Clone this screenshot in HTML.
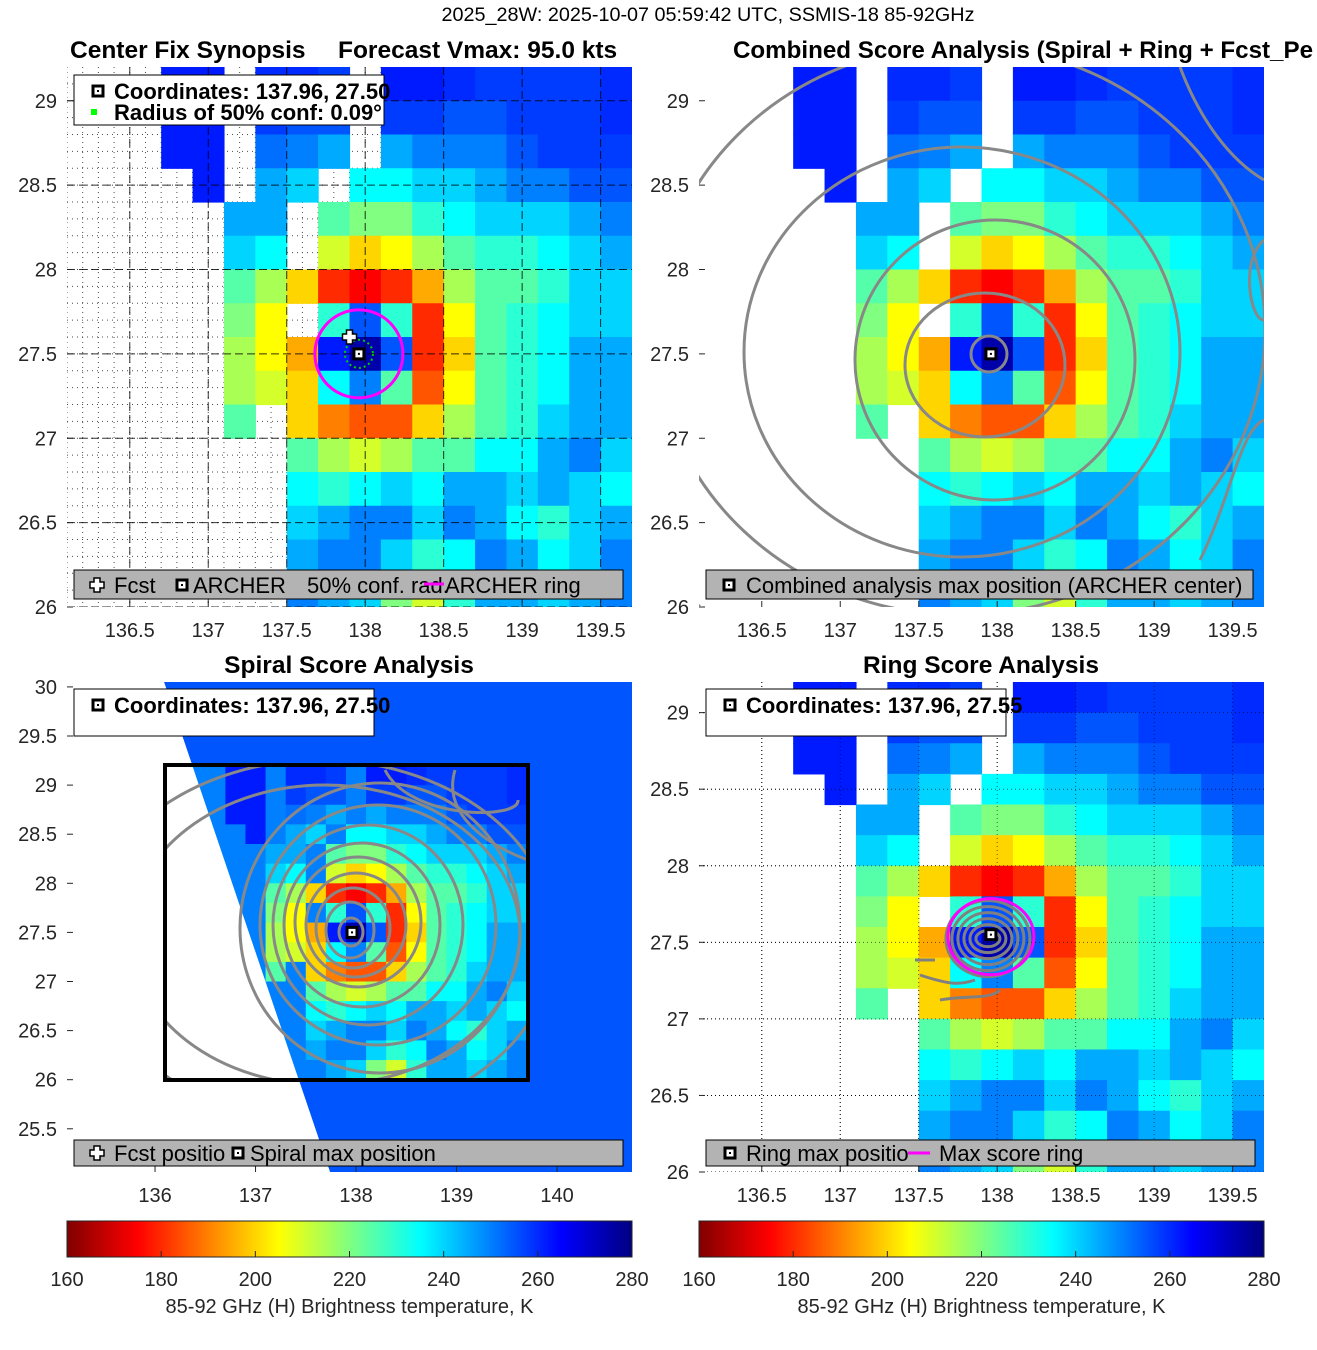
<!DOCTYPE html>
<html><head><meta charset="utf-8"><style>
body{margin:0;background:#fff;}
svg{display:block;font-family:"Liberation Sans",sans-serif;}
.tk{font-size:20px;fill:#262626;}
.ti{font-size:24.5px;font-weight:bold;fill:#000;}
.lg{font-size:22px;fill:#000;}
</style></head><body>
<svg id="fig" width="1317" height="1350" viewBox="0 0 1317 1350" xmlns="http://www.w3.org/2000/svg">
<defs>
<clipPath id="c1"><rect x="67" y="67" width="565" height="540"/></clipPath>
<clipPath id="c2"><rect x="699" y="67" width="565" height="540"/></clipPath>
<clipPath id="c3"><rect x="67" y="682" width="565" height="490"/></clipPath>
<clipPath id="c4"><rect x="699" y="682" width="565" height="490"/></clipPath>
<clipPath id="cbox"><rect x="165" y="765" width="363" height="315"/></clipPath>
<linearGradient id="cbg" x1="0" x2="1" y1="0" y2="0"></linearGradient>
</defs>
<text x="708" y="21" text-anchor="middle" font-size="19.8" fill="#000">2025_28W: 2025-10-07 05:59:42 UTC, SSMIS-18 85-92GHz</text>
<text x="70" y="58" class="ti">Center Fix Synopsis</text>
<text x="338" y="58" class="ti">Forecast Vmax: 95.0 kts</text>
<text x="733" y="58" class="ti" textLength="580" lengthAdjust="spacingAndGlyphs">Combined Score Analysis (Spiral + Ring + Fcst_Pe</text>
<text x="349" y="673" class="ti" text-anchor="middle">Spiral Score Analysis</text>
<text x="981" y="673" class="ti" text-anchor="middle">Ring Score Analysis</text>
<g id="layer"></g>
</svg>
<script>
const N=null;
const lons=[136.2,136.4,136.6,136.8,137.0,137.2,137.4,137.6,137.8,138.0,138.2,138.4,138.6,138.8,139.0,139.2,139.4,139.6];
const lats=[29.1,28.9,28.7,28.5,28.3,28.1,27.9,27.7,27.5,27.3,27.1,26.9,26.7,26.5,26.3,26.1];
const tb=[
[N,N,N,262,262,N,260,260,258,N,262,262,260,258,258,258,258,260],
[N,N,N,262,262,N,258,255,255,N,258,258,255,255,258,258,258,260],
[N,N,N,262,262,N,252,250,245,N,245,250,250,250,255,258,258,258],
[N,N,N,N,262,N,245,240,N,235,235,240,240,245,250,250,255,255],
[N,N,N,N,N,245,245,N,225,220,220,230,235,240,240,240,245,250],
[N,N,N,N,N,240,235,N,210,200,205,215,225,230,230,235,240,245],
[N,N,N,N,N,225,215,200,180,175,180,195,215,225,225,230,240,240],
[N,N,N,N,N,220,205,N,230,255,230,180,205,225,230,235,240,240],
[N,N,N,N,N,215,205,195,262,275,255,180,200,225,230,235,245,245],
[N,N,N,N,N,215,210,200,235,250,225,185,205,225,230,235,245,245],
[N,N,N,N,N,225,N,200,190,185,185,200,215,225,230,240,245,245],
[N,N,N,N,N,N,N,225,215,210,215,225,225,235,235,245,250,240],
[N,N,N,N,N,N,N,235,230,235,240,235,245,245,240,245,240,235],
[N,N,N,N,N,N,N,240,245,250,250,240,250,245,235,230,240,245],
[N,N,N,N,N,N,N,245,250,250,240,230,235,250,245,235,240,250],
[N,N,N,N,N,N,N,250,245,240,220,210,230,245,245,240,245,250]];
const cbTicks=[160,180,200,220,240,260,280];
const ticksA=[136.5,137,137.5,138,138.5,139,139.5];
const ticksYA=[26,26.5,27,27.5,28,28.5,29];
const ticksX3=[136,137,138,139,140];
const ticksY3=[25.5,26,26.5,27,27.5,28,28.5,29,29.5,30];
const center=[137.96,27.50];
const ringCenter=[137.96,27.55];
const fcst=[137.9,27.6];
const swathBg=255;
const cell=0.2;
const NS="http://www.w3.org/2000/svg";
const layer=document.getElementById('layer');
function mk(t,a,p){const e=document.createElementNS(NS,t);for(const k in a)e.setAttribute(k,a[k]);(p||layer).appendChild(e);return e;}
function jet(v){let t=(280-v)/120;t=Math.max(0,Math.min(1,t));const c=x=>Math.round(255*Math.max(0,Math.min(1,x)));return `rgb(${c(1.5-Math.abs(4*t-3))},${c(1.5-Math.abs(4*t-2))},${c(1.5-Math.abs(4*t-1))})`;}
const P=[
{id:1,x0:67,x1:632,y0:67,y1:607,lo0:136.1,lo1:139.7,la0:26.0,la1:29.2},
{id:2,x0:699,x1:1264,y0:67,y1:607,lo0:136.1,lo1:139.7,la0:26.0,la1:29.2},
{id:3,x0:67,x1:632,y0:682,y1:1172,lo0:135.124,lo1:140.746,la0:25.06,la1:30.05},
{id:4,x0:699,x1:1264,y0:682,y1:1172,lo0:136.1,lo1:139.7,la0:26.0,la1:29.2}];
P.forEach(p=>{p.sx=v=>p.x0+(v-p.lo0)/(p.lo1-p.lo0)*(p.x1-p.x0);p.sy=v=>p.y1-(v-p.la0)/(p.la1-p.la0)*(p.y1-p.y0);});
const edgeX=y=>164+(y-682)/490*166;
function field(p){
 const g=mk('g',{'clip-path':`url(#c${p.id})`});
 
 
 if(p.id===3){
  const pts=`${edgeX(682)},682 632,682 632,1172 ${edgeX(1172)},1172`;
  const s=mk('polygon',{points:pts,fill:jet(swathBg)},g);
  
  
 }
 tb.forEach((row,i)=>row.forEach((v,j)=>{
  let val=v;
  if(p.id===3){if(val===null)val=250;}
  if(val===null)return;
  const r=mk('rect',{x:p.sx(lons[j]-cell/2),y:p.sy(lats[i]+cell/2),width:p.sx(lons[j]+cell/2)-p.sx(lons[j]-cell/2)+0.6,height:p.sy(lats[i]-cell/2)-p.sy(lats[i]+cell/2)+0.6,fill:jet(val)},g);
  
  
 }));
 if(p.id===3){
  mk('polygon',{points:`67,682 ${edgeX(682)},682 ${edgeX(1172)},1172 67,1172`,fill:'#fff'},g);
 }
 return g;
}
function axes(p,xt,yt){
 xt.forEach(t=>{const x=p.sx(t);mk('line',{x1:x,x2:x,y1:p.y1,y2:p.y1-6,stroke:'#262626'});
  const e=mk('text',{x:x,y:p.y1+30,'text-anchor':'middle',class:'tk'});e.textContent=t;
  
  });
 yt.forEach(t=>{const y=p.sy(t);mk('line',{x1:p.x0,x2:p.x0+6,y1:y,y2:y,stroke:'#262626'});
  const e=mk('text',{x:p.x0-10,y:y+7,'text-anchor':'end',class:'tk'});e.textContent=t;
  
  });
}
function grid(p,step,dash,op){
 const g=mk('g',{'clip-path':`url(#c${p.id})`,stroke:'#000','stroke-width':1,'stroke-dasharray':dash,opacity:op});
 for(let v=Math.ceil(p.lo0/step)*step;v<p.lo1;v+=step)mk('line',{x1:p.sx(v),x2:p.sx(v),y1:p.y0,y2:p.y1},g);
 for(let v=Math.ceil(p.la0/step)*step;v<p.la1;v+=step)mk('line',{x1:p.x0,x2:p.x1,y1:p.sy(v),y2:p.sy(v)},g);
}
function marker(x,y){mk('rect',{x:x-5,y:y-5,width:10,height:10,fill:'#fff',stroke:'#000','stroke-width':3});mk('rect',{x:x-1,y:y-1,width:2,height:2,fill:'#000'});}
function plus(x,y){mk('path',{d:`M${x-3} ${y-7}h6v4h4v6h-4v4h-6v-4h-4v-6h4z`,fill:'#fff',stroke:'#000','stroke-width':1.5});}
function legendBox(x,y,w,h,fill,name){const r=mk('rect',{x,y,width:w,height:h,fill,stroke:'#000','stroke-width':1});}
function txt(x,y,s,cls,name,extra){const e=mk('text',Object.assign({x,y,class:cls},extra||{}));e.textContent=s;return e;}

// Panel 1
const p1=P[0];
grid(p1,0.1,'1 4',0.7);
field(p1);
grid(p1,0.5,'8 4',0.8);
axes(p1,ticksA,ticksYA);
mk('circle',{cx:p1.sx(center[0]),cy:p1.sy(center[1]),r:44,fill:'none',stroke:'#f0f','stroke-width':3});
mk('circle',{cx:p1.sx(center[0]),cy:p1.sy(center[1]),r:14,fill:'none',stroke:'#0c0','stroke-width':2,'stroke-dasharray':'2 3'});
plus(p1.sx(fcst[0]),p1.sy(fcst[1]));
marker(p1.sx(center[0]),p1.sy(center[1]));
legendBox(74,75,310,50,'#fff','panel1-info-legend');
marker(98,91);mk('rect',{x:91,y:109,width:6,height:6,fill:'#0f0'});
txt(114,99,'Coordinates: 137.96, 27.50','lg','coordinates-text',{'font-weight':'bold'});
txt(114,120,'Radius of 50% conf: 0.09°','lg','radius-text',{'font-weight':'bold'});
legendBox(74,570,549,29,'#b3b3b3','panel1-bottom-legend');
plus(97,585);txt(114,593,'Fcst','lg','legend-fcst');
marker(182,585);txt(193,593,'ARCHER','lg','legend-archer');
txt(307,593,'50% conf. rad.','lg','legend-conf');
mk('line',{x1:424,x2:444,y1:584,y2:584,stroke:'#f0f','stroke-width':3});
txt(445,593,'ARCHER ring','lg','legend-ring');

// Panel 2
const p2=P[1];
field(p2);
axes(p2,ticksA,ticksYA);
const c2=mk('g',{'clip-path':'url(#c2)',fill:'none',stroke:'#888','stroke-width':3});


[[989,354,18,18],[985,365,80,72],[995,360,140,140],[962,352,218,205],[960,330,305,285],[1000,320,420,410]].forEach(e=>mk('ellipse',{cx:e[0],cy:e[1],rx:e[2],ry:e[3]},c2));
mk('path',{d:'M1180 67 C1200 120 1230 160 1264 180 M1264 240 C1240 260 1250 320 1264 320 M1264 420 C1240 430 1230 500 1200 560'},c2);
marker(p2.sx(center[0]),p2.sy(center[1]));
legendBox(706,570,547,29,'#b3b3b3','panel2-bottom-legend');
marker(729,585);txt(746,593,'Combined analysis max position (ARCHER center)','lg','legend-combined');

// Panel 3
const p3=P[2];
field(p3);
axes(p3,ticksX3,ticksY3);
const c3=mk('g',{'clip-path':'url(#cbox)',fill:'none',stroke:'#888','stroke-width':3});


[[351,932,12,14],[350,930,24,28],[353,928,37,40],[356,925,50,52],[358,922,63,65],[362,925,78,82],[368,925,95,100],[378,925,118,120],[380,928,140,145],[325,935,195,150],[320,940,235,180]].forEach(e=>mk('ellipse',{cx:e[0],cy:e[1],rx:e[2],ry:e[3]},c3));
mk('path',{d:'M385 770 C410 820 520 820 518 800 M455 770 C440 820 500 850 528 860'},c3);
mk('rect',{x:165,y:765,width:363,height:315,fill:'none',stroke:'#000','stroke-width':4});
marker(p3.sx(center[0]),p3.sy(center[1]));
legendBox(74,689,300,47,'#fff','panel3-info-legend');
marker(98,705);txt(114,713,'Coordinates: 137.96, 27.50','lg','panel3-coordinates',{'font-weight':'bold'});
legendBox(74,1140,549,26,'#b3b3b3','panel3-bottom-legend');
plus(97,1153);txt(114,1161,'Fcst positio','lg','legend-fcst-pos');
marker(238,1153);txt(250,1161,'Spiral max position','lg','legend-spiral');

// Panel 4
const p4=P[3];
grid(p4,0.5,'1 3',0.9);
field(p4);
grid(p4,0.5,'1 3',0.6);
axes(p4,ticksA,ticksYA);
const c4=mk('g',{fill:'none',stroke:'#808080','stroke-width':3});


[8,14,20,26,32,38].forEach(r=>mk('ellipse',{cx:p4.sx(ringCenter[0])-3,cy:p4.sy(ringCenter[1])+4,rx:r+4,ry:r},c4));
mk('path',{d:'M920 975 C950 985 960 985 975 980 M940 1000 C965 995 990 1000 1000 990 M915 960 L935 960'},c4);
mk('ellipse',{cx:p4.sx(ringCenter[0]),cy:p4.sy(ringCenter[1])+2,rx:43,ry:38,fill:'none',stroke:'#f0f','stroke-width':3});
marker(p4.sx(ringCenter[0]),p4.sy(ringCenter[1]));
legendBox(706,689,300,47,'#fff','panel4-info-legend');
marker(730,705);txt(746,713,'Coordinates: 137.96, 27.55','lg','panel4-coordinates',{'font-weight':'bold'});
legendBox(706,1140,549,26,'#b3b3b3','panel4-bottom-legend');
marker(730,1153);txt(746,1161,'Ring max positio','lg','legend-ring-max');
mk('line',{x1:908,x2:930,y1:1153,y2:1153,stroke:'#f0f','stroke-width':3});
txt(939,1161,'Max score ring','lg','legend-max-ring');

// Colorbars
const grad=document.getElementById('cbg');
for(let v=160;v<=280;v+=5)mk('stop',{offset:(v-160)/120,'stop-color':jet(v)},grad);
[[67,632,1],[699,1264,2]].forEach(([a,b,k])=>{
 const r=mk('rect',{x:a,y:1221,width:b-a,height:36,fill:'url(#cbg)',stroke:'#262626','stroke-width':1});
 
 
 cbTicks.forEach(t=>{const x=a+(t-160)/120*(b-a);mk('line',{x1:x,x2:x,y1:1251,y2:1257,stroke:'#262626'});
  txt(x,1286,String(t),'tk','colorbar-tick',{'text-anchor':'middle'});});
 txt((a+b)/2,1313,'85-92 GHz (H) Brightness temperature, K','tk','colorbar-label',{'text-anchor':'middle','font-size':'20.5'});
});
</script>
</body></html>
